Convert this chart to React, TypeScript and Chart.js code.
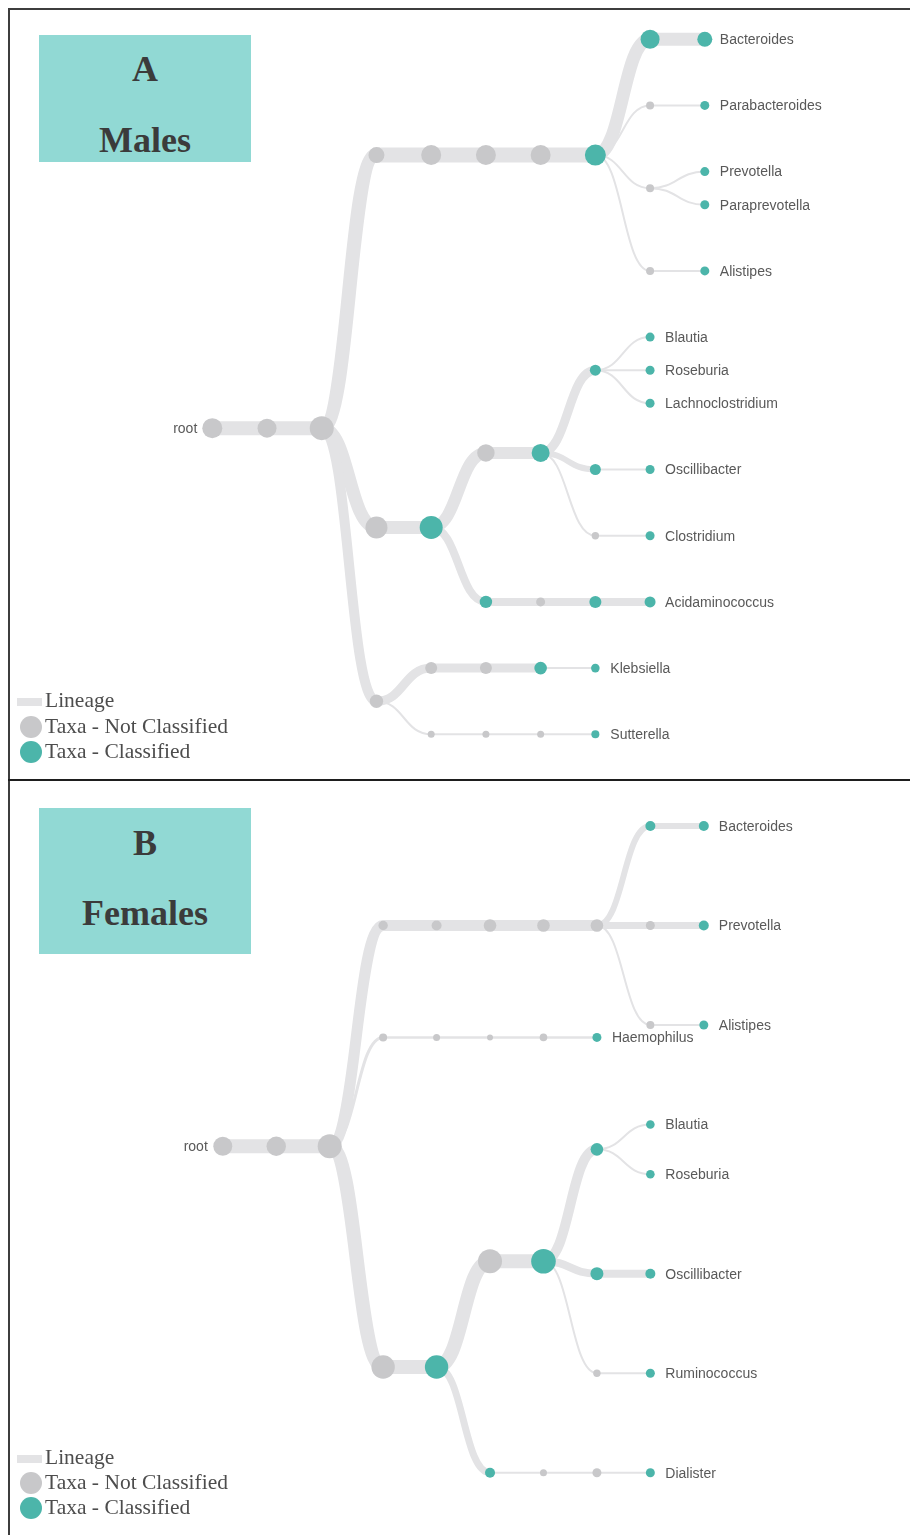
import React, { useEffect, useRef } from 'react';
import { Chart, registerables } from 'chart.js';

Chart.register(...registerables);

// ---- Males lineage tree (pre-order, parent index, -1 = root) ----
const maleTaxa = [
  'root', '', '', '', '', '', '', '', '', 'Bacteroides', '', 'Parabacteroides', '', 'Prevotella',
  'Paraprevotella', '', 'Alistipes', '', '', '', '', '', 'Blautia', 'Roseburia', 'Lachnoclostridium',
  '', 'Oscillibacter', '', 'Clostridium', '', '', '', 'Acidaminococcus', '', '', '', '', 'Klebsiella',
  '', '', '', 'Sutterella',
];
const maleParent = [
  -1, 0, 1, 2, 3, 4, 5, 6, 7, 8, 7, 10, 7, 12, 12, 7, 15, 2, 17, 18, 19, 20, 21, 21, 21, 20, 25, 20,
  27, 18, 29, 30, 31, 2, 33, 34, 35, 36, 33, 38, 39, 40,
];
const maleClassified = [
  0, 0, 0, 0, 0, 0, 0, 1, 1, 1, 0, 1, 0, 1, 1, 0, 1, 0, 1, 0, 1, 1, 1, 1, 1, 1, 1, 0, 1, 1, 0, 1, 1,
  0, 0, 0, 1, 1, 0, 0, 0, 1,
];
const maleNodeSize = [
  10, 9.5, 12, 8, 10, 10, 10, 10.5, 9.5, 7.5, 4, 4.5, 4, 4.5, 4.5, 4, 4.5, 11, 11.5, 8.7, 9, 5.5, 4.5,
  4.5, 4.5, 5.5, 4.5, 3.7, 4.5, 6.2, 4.5, 6, 5.5, 6.7, 6, 6, 6.3, 4.3, 3.5, 3.5, 3.5, 4,
];
const maleLineage = [
  0, 14, 14, 14, 15, 15, 15, 15, 13, 13, 2, 2, 2, 2, 2, 2, 2, 13, 13, 12, 12, 9, 2, 2, 2, 6, 2, 2, 2,
  8, 8, 8, 8, 10, 9, 9, 9, 2, 2, 2, 2, 2,
];

// ---- Females lineage tree ----
const femaleTaxa = [
  'root', '', '', '', '', '', '', '', '', 'Bacteroides', '', 'Prevotella', '', 'Alistipes', '', '', '',
  '', 'Haemophilus', '', '', '', '', '', 'Blautia', 'Roseburia', '', 'Oscillibacter', '', 'Ruminococcus',
  '', '', '', 'Dialister',
];
const femaleParent = [
  -1, 0, 1, 2, 3, 4, 5, 6, 7, 8, 7, 10, 7, 12, 2, 14, 15, 16, 17, 2, 19, 20, 21, 22, 23, 23, 22, 26,
  22, 28, 20, 30, 31, 32,
];
const femaleClassified = [
  0, 0, 0, 0, 0, 0, 0, 0, 1, 1, 0, 1, 0, 1, 0, 0, 0, 0, 1, 0, 1, 0, 1, 1, 1, 1, 1, 1, 0, 1, 1, 0, 0, 1,
];
const femaleNodeSize = [
  9.5, 9.7, 12, 4.7, 5, 6.3, 6.3, 6.3, 5, 5, 4.5, 5, 4, 4.5, 4, 3.5, 3, 3.8, 4.5, 11.7, 11.7, 12, 12.3,
  6.3, 4.3, 4.3, 6.5, 5, 3.7, 4.5, 5, 3.5, 4.5, 4.5,
];
const femaleLineage = [
  0, 14, 14, 11, 11, 11, 11, 11, 6, 6, 7, 7, 2, 2, 3, 2.5, 2.5, 2.5, 2.5, 14, 14, 14, 14, 10, 2, 2, 8,
  8, 2, 2, 7, 2, 2, 2,
];

const TEAL = '#4cb5aa';
const GREY = '#c8c8ca';
const LINK = '#e3e3e5';

// Tidy tree (Reingold-Tilford / Buchheim) breadth positions, siblings 1 apart, cousins 2 apart.
function tidyPositions(parents: number[]): number[] {
  const make = (i: number): any => ({
    parent: null, children: null, A: null, a: null, z: 0, m: 0, c: 0, s: 0, t: null, i, x: 0,
  });
  const nodes = parents.map(() => make(0));
  nodes.forEach((v: any) => { v.a = v; });
  let root: any = null;
  parents.forEach((p, k) => {
    const v = nodes[k];
    if (p < 0) { root = v; return; }
    const par = nodes[p];
    if (!par.children) par.children = [];
    v.i = par.children.length;
    par.children.push(v);
    v.parent = par;
  });
  const holder = make(0);
  holder.a = holder;
  holder.children = [root];
  root.parent = holder;

  const sep = (a: any, b: any) => (a.parent === b.parent ? 1 : 2);
  const nextLeft = (v: any) => (v.children ? v.children[0] : v.t);
  const nextRight = (v: any) => (v.children ? v.children[v.children.length - 1] : v.t);
  const moveSubtree = (wm: any, wp: any, shift: number) => {
    const change = shift / (wp.i - wm.i);
    wp.c -= change; wp.s += shift; wm.c += change; wp.z += shift; wp.m += shift;
  };
  const executeShifts = (v: any) => {
    let shift = 0, change = 0;
    const ch = v.children;
    for (let i = ch.length - 1; i >= 0; i--) {
      const w = ch[i];
      w.z += shift; w.m += shift;
      change += w.c;
      shift += w.s + change;
    }
  };
  const nextAncestor = (vim: any, v: any, ancestor: any) => (vim.a.parent === v.parent ? vim.a : ancestor);
  const apportion = (v: any, w: any, ancestor: any) => {
    if (w) {
      let vip = v, vop = v, vim = w, vom = v.parent.children[0];
      let sip = vip.m, sop = vop.m, sim = vim.m, som = vom.m;
      while (true) {
        vim = nextRight(vim);
        vip = nextLeft(vip);
        if (!(vim && vip)) break;
        vom = nextLeft(vom);
        vop = nextRight(vop);
        vop.a = v;
        const shift = vim.z + sim - vip.z - sip + sep(vim, vip);
        if (shift > 0) {
          moveSubtree(nextAncestor(vim, v, ancestor), v, shift);
          sip += shift; sop += shift;
        }
        sim += vim.m; sip += vip.m; som += vom.m; sop += vop.m;
      }
      if (vim && !nextRight(vop)) { vop.t = vim; vop.m += sim - sop; }
      if (vip && !nextLeft(vom)) { vom.t = vip; vom.m += sip - som; ancestor = v; }
    }
    return ancestor;
  };
  const firstWalk = (v: any) => {
    const ch = v.children, siblings = v.parent.children;
    const w = v.i ? siblings[v.i - 1] : null;
    if (ch) {
      executeShifts(v);
      const mid = (ch[0].z + ch[ch.length - 1].z) / 2;
      if (w) { v.z = w.z + sep(v, w); v.m = v.z - mid; } else v.z = mid;
    } else if (w) {
      v.z = w.z + sep(v, w);
    }
    v.parent.A = apportion(v, w, v.parent.A || siblings[0]);
  };
  const post = (v: any) => { if (v.children) v.children.forEach(post); firstWalk(v); };
  post(root);
  holder.m = -root.z;
  const pre = (v: any) => {
    v.x = v.z + v.parent.m;
    v.m += v.parent.m;
    if (v.children) v.children.forEach(pre);
  };
  pre(root);
  return nodes.map((v: any) => v.x);
}

function depthsOf(parents: number[]): number[] {
  const d: number[] = [];
  parents.forEach((p, k) => { d[k] = p < 0 ? 0 : d[p] + 1; });
  return d;
}

type TreeProps = {
  taxa: string[];
  parent: number[];
  classified: number[];
  nodeSize: number[];
  lineage: number[];
  left: number; top: number; width: number; height: number;
  padding: { left: number; right: number; top: number; bottom: number };
};

function LineageTree(props: TreeProps) {
  const ref = useRef<HTMLCanvasElement | null>(null);
  useEffect(() => {
    const { taxa, parent, classified, nodeSize, lineage, padding } = props;
    const depth = depthsOf(parent);
    const pos = tidyPositions(parent);
    const hasChild = parent.map((_, k) => parent.some((p) => p === k));
    const points = pos.map((y, k) => ({ x: depth[k], y }));

    const linkPlugin = {
      id: 'lineageLinks',
      beforeDatasetsDraw(chart: any) {
        const { ctx } = chart;
        const xs = chart.scales.x, ys = chart.scales.y;
        ctx.save();
        ctx.strokeStyle = LINK;
        ctx.lineCap = 'butt';
        parent.forEach((p, k) => {
          if (p < 0) return;
          const x0 = xs.getPixelForValue(depth[p]), y0 = ys.getPixelForValue(pos[p]);
          const x1 = xs.getPixelForValue(depth[k]), y1 = ys.getPixelForValue(pos[k]);
          const mx = (x0 + x1) / 2;
          ctx.beginPath();
          ctx.moveTo(x0, y0);
          ctx.bezierCurveTo(mx, y0, mx, y1, x1, y1);
          ctx.lineWidth = lineage[k];
          ctx.stroke();
        });
        ctx.restore();
      },
    };

    const labelPlugin = {
      id: 'taxonLabels',
      afterDatasetsDraw(chart: any) {
        const { ctx } = chart;
        const xs = chart.scales.x, ys = chart.scales.y;
        ctx.save();
        ctx.font = '14px "Liberation Sans", Arial, sans-serif';
        ctx.fillStyle = '#595959';
        ctx.textBaseline = 'middle';
        taxa.forEach((name, k) => {
          if (!name) return;
          const x = xs.getPixelForValue(depth[k]);
          const y = ys.getPixelForValue(pos[k]) + 1;
          if (parent[k] < 0) {
            ctx.textAlign = 'right';
            ctx.fillText(name, x - 15, y);
          } else if (!hasChild[k]) {
            ctx.textAlign = 'left';
            ctx.fillText(name, x + 15, y);
          }
        });
        ctx.restore();
      },
    };

    const chart = new Chart(ref.current as HTMLCanvasElement, {
      type: 'scatter',
      data: {
        datasets: [
          {
            data: points,
            pointRadius: nodeSize,
            pointHoverRadius: nodeSize,
            pointBackgroundColor: classified.map((c) => (c ? TEAL : GREY)),
            pointBorderWidth: 0,
            borderWidth: 0,
            clip: false,
          } as any,
        ],
      },
      options: {
        responsive: false,
        animation: false,
        events: [],
        layout: { padding },
        scales: {
          x: { type: 'linear', display: false, min: 0, max: Math.max(...depth) },
          y: { type: 'linear', display: false, min: Math.min(...pos), max: Math.max(...pos), reverse: true },
        },
        plugins: { legend: { display: false }, tooltip: { enabled: false } },
      },
      plugins: [linkPlugin, labelPlugin],
    });
    return () => chart.destroy();
  }, []);
  return (
    <canvas
      ref={ref}
      width={props.width}
      height={props.height}
      style={{ position: 'absolute', left: props.left, top: props.top, width: props.width, height: props.height }}
    />
  );
}

const serif = '"Liberation Serif", "Times New Roman", serif';

function TitleBox({ top, height, letter, word, letterBase, wordBase }: any) {
  const textStyle = (base: number): React.CSSProperties => ({
    position: 'absolute', left: 39, width: 212, top: base - 30.15, textAlign: 'center',
    font: `bold 36px ${serif}`, lineHeight: 1, color: '#3b3b3b', whiteSpace: 'nowrap',
  });
  return (
    <>
      <div style={{ position: 'absolute', left: 39, top, width: 212, height, background: '#91d9d4' }} />
      <div style={textStyle(letterBase)}>{letter}</div>
      <div style={textStyle(wordBase)}>{word}</div>
    </>
  );
}

function Legend({ barY, greyY, tealY }: any) {
  const text = (base: number): React.CSSProperties => ({
    position: 'absolute', left: 45, top: base - 18, font: `21.5px ${serif}`, lineHeight: 1,
    color: '#4d4d4d', whiteSpace: 'nowrap',
  });
  const dot = (cy: number, color: string): React.CSSProperties => ({
    position: 'absolute', left: 20, top: cy - 11, width: 22, height: 22, borderRadius: '50%', background: color,
  });
  return (
    <>
      <div style={{ position: 'absolute', left: 17, top: barY - 4, width: 25, height: 8, background: '#e3e3e5' }} />
      <div style={text(barY + 6.5)}>Lineage</div>
      <div style={dot(greyY, GREY)} />
      <div style={text(greyY + 6.5)}>Taxa - Not Classified</div>
      <div style={dot(tealY, TEAL)} />
      <div style={text(tealY + 6.5)}>Taxa - Classified</div>
    </>
  );
}

export default function App() {
  return (
    <div style={{ position: 'absolute', left: 0, top: 0, width: 910, height: 1535, overflow: 'hidden', background: '#fff' }}>
      <div style={{ position: 'absolute', left: 8, top: 8, width: 902, height: 2, background: '#3d3d3d' }} />
      <div style={{ position: 'absolute', left: 8, top: 8, width: 2, height: 1527, background: '#3d3d3d' }} />
      <div style={{ position: 'absolute', left: 8, top: 779, width: 902, height: 2, background: '#1e1e1e' }} />

      <TitleBox top={35} height={127} letter="A" word="Males" letterBase={81} wordBase={152} />
      <LineageTree
        taxa={maleTaxa}
        parent={maleParent}
        classified={maleClassified}
        nodeSize={maleNodeSize}
        lineage={maleLineage}
        left={10} top={10} width={900} height={769}
        padding={{ left: 202.3, right: 205.2, top: 29.2, bottom: 44.7 }}
      />
      <Legend barY={701.5} greyY={727} tealY={752} />

      <TitleBox top={808} height={146} letter="B" word="Females" letterBase={855} wordBase={925} />
      <LineageTree
        taxa={femaleTaxa}
        parent={femaleParent}
        classified={femaleClassified}
        nodeSize={femaleNodeSize}
        lineage={femaleLineage}
        left={10} top={781} width={900} height={754}
        padding={{ left: 212.8, right: 206.2, top: 45, bottom: 62.3 }}
      />
      <Legend barY={1458.5} greyY={1483} tealY={1508} />
    </div>
  );
}
